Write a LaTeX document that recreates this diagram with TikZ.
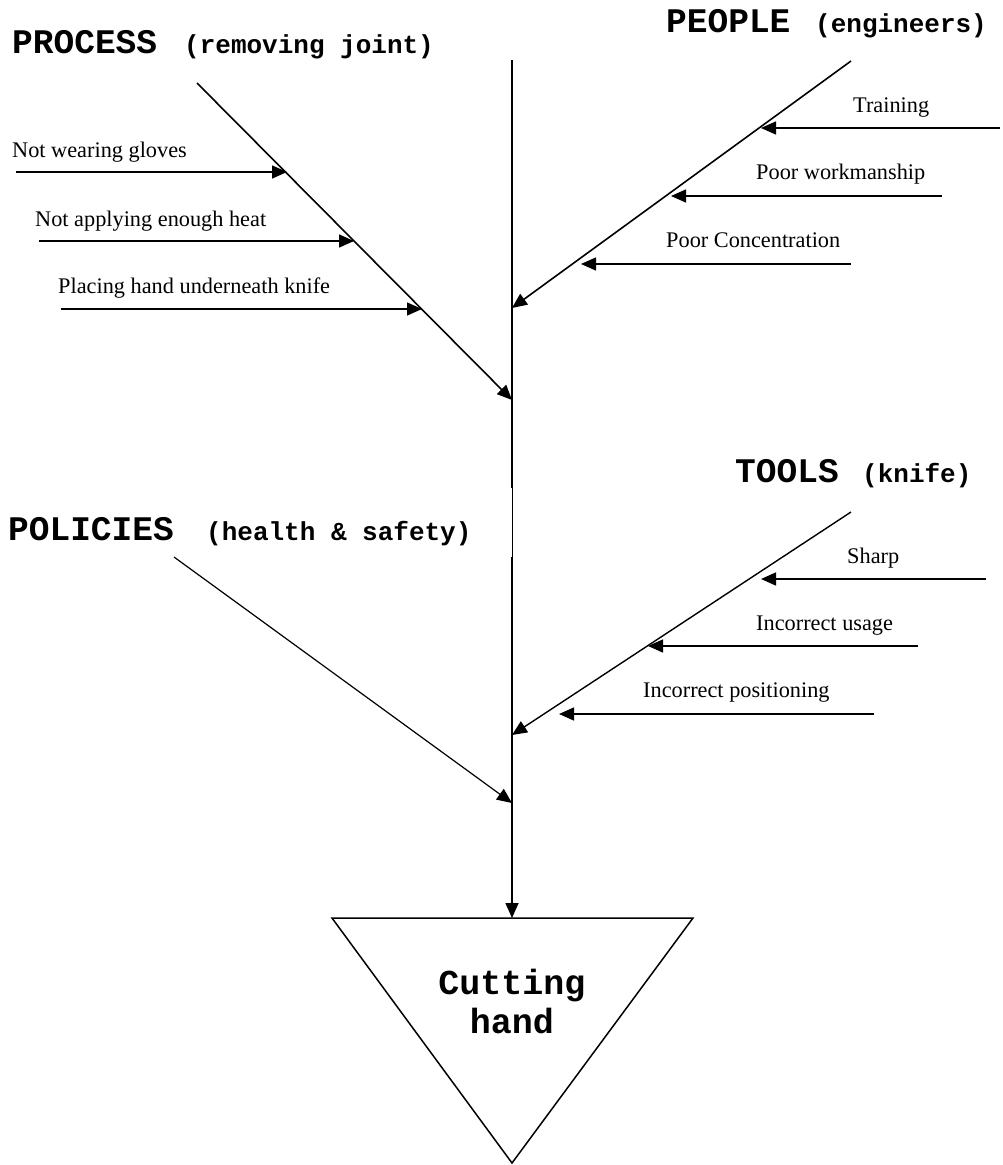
\documentclass[tikz,border=0pt]{standalone}
\usepackage{fontspec}
\setmainfont{Liberation Serif}
\newfontfamily\courfont{Liberation Mono}
\usetikzlibrary{arrows.meta}
\begin{document}
\begin{tikzpicture}[x=1pt,y=-1pt,
  bone/.style={line width=1.6pt},
  cause/.style={line width=1.5pt,-{Triangle[length=15pt,width=13pt]}},
  lbl/.style={anchor=base west,inner sep=0pt,font=\fontsize{22.3}{26}\selectfont},
  bighead/.style={anchor=base west,inner sep=0pt,font=\courfont\bfseries\fontsize{34.5}{38}\selectfont},
  smallhead/.style={anchor=base west,inner sep=0pt,font=\courfont\bfseries\fontsize{26}{30}\selectfont},
  tip/.style={-{Triangle[length=15pt,width=13pt]}}]
\useasboundingbox (0,0) rectangle (1003,1165);
% spine
\coordinate (sTop) at (512,60);
\coordinate (sMid1) at (512,488);
\coordinate (sMid2) at (512,557);
\coordinate (procTip) at (512,400);
\coordinate (peopTip) at (512,308);
\coordinate (toolTip) at (512,735);
\coordinate (polTip) at (512,803);
% triangle
\coordinate (tl) at (332,918);
\coordinate (tr) at (693,918);
\coordinate (tb) at (512,1163);
\coordinate (tt) at (512,918);
\draw[line width=1.5pt] (tl) -- (tr) -- (tb) -- cycle;
\node[align=center,inner sep=0pt,font=\courfont\bfseries\fontsize{35}{39}\selectfont] (effect) at (512,1001) {Cutting\\hand};
\draw[line width=2pt] (sTop) -- (sMid1);
\draw[line width=0.8pt] (sMid1) -- (sMid2);
\draw[line width=1.6pt,tip] (sMid2) -- (tt);
% headings
\node[bighead] (hProc) at (12,53) {PROCESS};
\node[smallhead] (hProc2) at (184,53) {(removing joint)};
\node[bighead] (hPeop) at (666,32) {PEOPLE};
\node[smallhead] (hPeop2) at (815,32) {(engineers)};
\node[bighead] (hPol) at (8,540) {POLICIES};
\node[smallhead] (hPol2) at (206,540) {(health \& safety)};
\node[bighead] (hTool) at (735,482) {TOOLS};
\node[smallhead] (hTool2) at (862,482) {(knife)};
% bones
\coordinate (procS) at (197,83);
\coordinate (peopS) at (851,61);
\coordinate (toolS) at (851,512);
\coordinate (polS) at (174,557);
\draw[bone,tip] (procS) -- (procTip);
\draw[bone,tip] (peopS) -- (peopTip);
\draw[bone,line width=1.4pt,tip] (toolS) -- (toolTip);
\draw[line width=1.2pt,tip] (polS) -- (polTip);
% process causes
\node[lbl] (c1) at (12,157) {Not wearing gloves};
\node[lbl] (c2) at (35,226) {Not applying enough heat};
\node[lbl] (c3) at (58,293) {Placing hand underneath knife};
\coordinate (c1s) at (16,172); \coordinate (c1e) at (287,172);
\coordinate (c2s) at (39,241); \coordinate (c2e) at (354,241);
\coordinate (c3s) at (61,309); \coordinate (c3e) at (422,309);
\draw[cause] (c1s) -- (c1e);
\draw[cause] (c2s) -- (c2e);
\draw[cause] (c3s) -- (c3e);
% people causes
\node[lbl] (p1) at (853,112) {Training};
\node[lbl] (p2) at (756,179) {Poor workmanship};
\node[lbl] (p3) at (666,247) {Poor Concentration};
\coordinate (p1s) at (1000,128); \coordinate (p1e) at (761,128);
\coordinate (p2s) at (942,196); \coordinate (p2e) at (671,196);
\coordinate (p3s) at (851,264); \coordinate (p3e) at (581,264);
\draw[cause] (p1s) -- (p1e);
\draw[cause] (p2s) -- (p2e);
\draw[cause] (p3s) -- (p3e);
% tools causes
\node[lbl] (t1) at (847,563) {Sharp};
\node[lbl] (t2) at (756,630) {Incorrect usage};
\node[lbl] (t3) at (643,697) {Incorrect positioning};
\coordinate (t1s) at (986,579); \coordinate (t1e) at (761,579);
\coordinate (t2s) at (918,646); \coordinate (t2e) at (648,646);
\coordinate (t3s) at (874,714); \coordinate (t3e) at (559,714);
\draw[cause] (t1s) -- (t1e);
\draw[cause] (t2s) -- (t2e);
\draw[cause] (t3s) -- (t3e);
\end{tikzpicture}
\end{document}
